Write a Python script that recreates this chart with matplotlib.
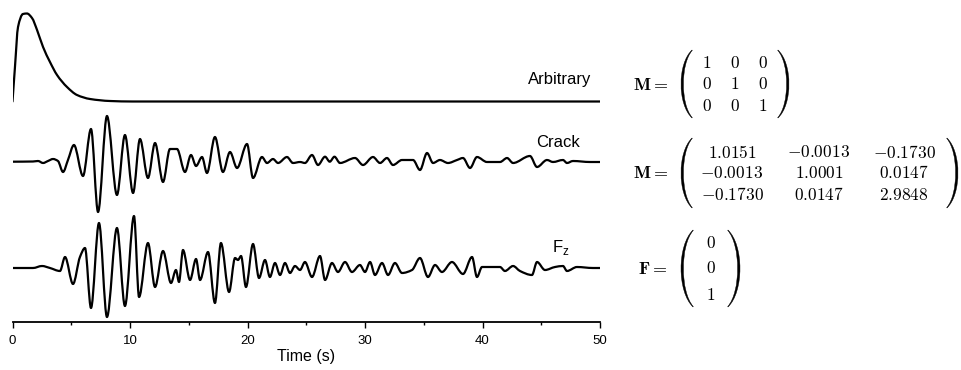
import numpy as np
import matplotlib
matplotlib.use('Agg')
import matplotlib.pyplot as plt
from matplotlib.path import Path
from matplotlib.patches import PathPatch

plt.rcParams['font.family'] = ['Liberation Sans', 'DejaVu Sans']

#%% waveforms (time in s, amplitude in arbitrary units)

arb_t = [0, 0.21, 0.47, 0.89, 1.23, 1.66, 2.09, 2.60, 3.19, 3.79, 4.64, 5.49, 6.60, 8.30, 10.2, 50]
arb_a = [0, 34.5, 74.5, 87.5, 88, 83.5, 71.5, 54.5, 39.5, 26.5, 14.5, 6.5, 2.5, 0.5, 0, 0]

crack_t = [0, 1.74, 2.17, 2.60, 3.02, 3.45, 3.87, 4.30, 4.72, 5.23, 6.00, 6.68, 7.28, 8.04,
           8.89, 9.57, 10.26, 10.85, 11.53, 12.13, 12.81, 13.40, 14.00, 14.68, 15.19, 15.62,
           16.13, 16.55, 17.23, 17.91, 18.51, 19.11, 19.96, 20.47, 21.23, 21.66, 22.17, 22.60,
           23.36, 23.87, 24.47, 24.89, 25.49, 26.00, 26.60, 27.00, 27.40, 27.87, 29.15, 29.83,
           30.68, 31.28, 31.87, 32.38, 33.15, 34.09, 34.68, 35.28, 35.79, 36.38, 37.06, 37.83,
           38.34, 38.94, 39.53, 40.38, 41.49, 42.09, 42.60, 44.04, 44.64, 45.49, 46.00, 46.85,
           47.19, 47.70, 49.15, 50.0]
crack_a = [0, 0.2, 0.7, -1.3, 0.7, 2.7, 0.7, -10.3, 1.7, 16.7, -14.3, 32.7, -50.3, 45.7,
           -33.3, 26.7, -31.3, 22.7, -16.3, 18.7, -20.3, 12.7, 12.7, -10.3, 6.7, -4.3,
           4.7, -11.3, 24.7, -10.3, 9.7, -6.3, 17.7, -16.3, 4.7, -1.3, 2.7, -1.3,
           4.7, -1.3, -0.3, -1.3, 6.7, -3.3, 5, 0, 5, -1.3, 3.7, -3.3,
           4.7, -1.3, 3.7, -3.3, 1.7, 1.7, -8.3, 8.7, -1.3, 1.7, -1.3, 1.7,
           3.7, -6.3, 4.7, -0.3, -0.3, 3.7, -1.3, 5.7, -5.3, 1.7, -0.3, 1.7,
           -1.3, 0.7, -0.3, -0.3]

fz_t = [0, 1.74, 2.51, 3.19, 4.04, 4.47, 5.15, 5.74, 6.17, 6.68, 7.36, 8.04, 8.89, 9.57,
        10.34, 10.77, 11.53, 12.13, 12.81, 13.49, 13.91, 14.17, 14.51, 15.11, 15.62, 15.96,
        16.64, 17.23, 17.74, 18.43, 18.94, 19.19, 19.45, 19.87, 20.47, 20.98, 21.49, 21.91,
        22.34, 22.77, 23.19, 23.62, 24.04, 24.47, 24.89, 25.49, 26.17, 26.60, 27.19, 27.70,
        28.30, 28.89, 29.57, 30.00, 30.43, 30.85, 31.45, 31.96, 32.55, 33.15, 34.00, 34.68,
        35.36, 35.96, 36.55, 37.40, 38.34, 39.11, 39.53, 39.96, 41.49, 41.91, 42.60, 43.19,
        44.21, 44.64, 45.32, 46.17, 46.85, 47.19, 48.04, 49.40, 50.0]
fz_a = [0, 0, 2, 0, -3, 11, -16, 11, 20, -40, 45, -49, 40, -38,
        52, -29, 25, -19, 17, -15, -2, -14, 18, -12, 9, -12,
        16, -35, 25, -24, 10, 8, 12, -19, 24, -10, 8, -9,
        5, -7, 5, -5, 2, -2, 6, -9, 12, -12, 5, -4,
        6, -4, 3, -4, 6, -7, 5, -7, 5, -5, -2, 10,
        -9, 3, -4, 6, -6, 11, -9, 1, 1, -3, 2, -3,
        -7, 6, -2, 1, 2, -3, 1, 0, 0]

traces = [(arb_t, arb_a, 220.5), (crack_t, crack_a, 160.3), (fz_t, fz_a, 54)]

xticks = [0, 10, 20, 30, 40, 50]

m_eye = [['1', '0', '0'], ['0', '1', '0'], ['0', '0', '1']]
m_crack = [['1.0151', '-0.0013', '-0.1730'],
           ['-0.0013', '1.0001', '0.0147'],
           ['-0.1730', '0.0147', '2.9848']]
f_z = [['0'], ['0'], ['1']]


def smooth_path(t, y):
    # draw through the read points with bezier segments (flat tangents at the peaks)
    t = np.asarray(t, float)
    y = np.asarray(y, float)
    h = np.diff(t)
    d = np.diff(y) / h
    m = np.zeros_like(y)
    for k in range(1, len(y) - 1):
        if d[k-1] * d[k] > 0:
            w1 = 2*h[k] + h[k-1]
            w2 = h[k] + 2*h[k-1]
            m[k] = (w1 + w2) / (w1/d[k-1] + w2/d[k])
    m[0] = d[0]
    verts = [(t[0], y[0])]
    codes = [Path.MOVETO]
    for k in range(len(t) - 1):
        verts += [(t[k] + h[k]/3, y[k] + m[k]*h[k]/3),
                  (t[k+1] - h[k]/3, y[k+1] - m[k+1]*h[k]/3),
                  (t[k+1], y[k+1])]
        codes += [Path.CURVE4]*3
    return Path(verts, codes)


#%% figure

fig = plt.figure(figsize=(9.61, 3.70), dpi=100)
ax = fig.add_axes([12.5/961, 48/370, 587.5/961, 317/370])

for t, a, off in traces:
    p = smooth_path(t, np.array(a) + off)
    ax.add_patch(PathPatch(p, facecolor='none', edgecolor='black', lw=1.6,
                           joinstyle='round', capstyle='round'))

ax.set_xlim(0, 50)
ax.set_ylim(0, 317)
for s in ['left', 'top', 'right']:
    ax.spines[s].set_visible(False)
ax.spines['bottom'].set_linewidth(1.3)
ax.set_yticks([])
ax.set_xticks(xticks)
ax.set_xticks([5, 15, 25, 35, 45], minor=True)
ax.tick_params(axis='x', which='major', length=4, width=1, labelsize=9.5, pad=5)
ax.tick_params(axis='x', which='minor', length=2.5, width=1)
ax.set_xlabel('Time (s)', fontsize=11.5, labelpad=2)
ax.patch.set_alpha(0)

ax.text(46.6, 238, 'Arbitrary', fontsize=12, ha='center', va='baseline')
ax.text(46.4, 175, 'Crack', fontsize=12, ha='center', va='baseline')
ax.text(45.9, 70, r'F$_\mathregular{z}$', fontsize=12, ha='left', va='baseline')

#%% matrices, drawn on an overlay in pixel coords

ov = fig.add_axes([0, 0, 1, 1])
ov.set_xlim(0, 961)
ov.set_ylim(370, 0)
ov.axis('off')
ov.patch.set_alpha(0)


def paren(x0, x1, ytop, ybot, left=True, thick=2.3):
    # crescent shaped bracket from two cubic curves
    h = ybot - ytop
    if left:
        tip, mid, s = x1, x0, 1
    else:
        tip, mid, s = x0, x1, -1
    c_out = (mid - 0.25*tip)/0.75
    c_in = (mid + s*thick - 0.25*tip)/0.75
    verts = [(tip, ytop), (c_out, ytop + 0.2*h), (c_out, ybot - 0.2*h), (tip, ybot),
             (tip + s*0.3, ybot - 0.4), (c_in, ybot - 0.2*h), (c_in, ytop + 0.2*h),
             (tip + s*0.3, ytop + 0.4), (tip, ytop)]
    codes = [Path.MOVETO, Path.CURVE4, Path.CURVE4, Path.CURVE4, Path.LINETO,
             Path.CURVE4, Path.CURVE4, Path.CURVE4, Path.CLOSEPOLY]
    ov.add_patch(PathPatch(Path(verts, codes), facecolor='black', edgecolor='black', lw=0.3))


def matrix(label, rows, ymid, cols, rowy, pl, pr, ptop, pbot):
    ov.text(668, ymid, label, fontsize=13, ha='right', va='center', math_fontfamily='cm')
    for r, row in enumerate(rows):
        for c, val in enumerate(row):
            ov.text(cols[c], rowy[r], '$' + val + '$', fontsize=12.5,
                    ha='center', va='center', math_fontfamily='cm')
    paren(pl[0], pl[1], ptop, pbot, left=True)
    paren(pr[0], pr[1], ptop, pbot, left=False)


matrix(r'$\mathbf{M} =$', m_eye, 85, [707, 735, 763], [63, 84, 106],
       (681, 692), (778, 789), 50, 118)
matrix(r'$\mathbf{M} =$', m_crack, 173, [732, 819, 904], [152, 173, 195],
       (681, 692), (947, 958), 138, 208)
matrix(r'$\mathbf{F} =$', f_z, 270, [711], [243, 268, 295],
       (681, 693), (728, 740), 230, 307)

fig.savefig('out.png', dpi=100)
